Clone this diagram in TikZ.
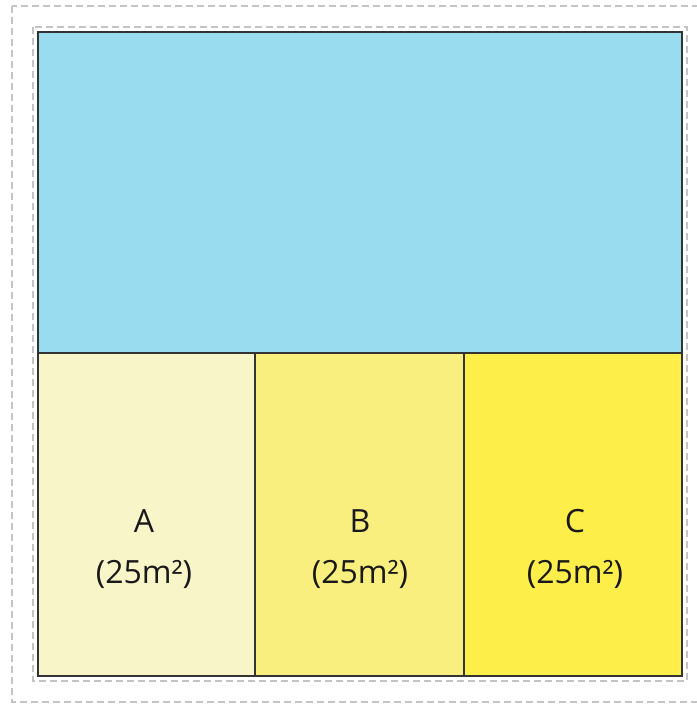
\documentclass[tikz,border=0pt]{standalone}
\usepackage{fontspec}
\setmainfont{Open Sans}
\definecolor{skyc}{HTML}{9ADCEF}
\definecolor{ac}{HTML}{F8F6C8}
\definecolor{bc}{HTML}{F9EF7E}
\definecolor{cc}{HTML}{FDEE4A}
\definecolor{edgec}{HTML}{333333}
\definecolor{dashc}{HTML}{C4C4C4}
\begin{document}
\begin{tikzpicture}[x=1pt,y=-1pt,
  frame/.style={draw=dashc,line width=1.1pt,dash pattern=on 7pt off 4pt},
  plot/.style={draw=edgec,line width=1.5pt},
  lbl/.style={font=\fontsize{32}{51}\selectfont,align=center,text=black!90}]
\useasboundingbox (0,0) rectangle (696,704);
\draw[frame] (12,6) rectangle (699,702);
\draw[frame] (33,27) rectangle (687,681);
\path[fill=skyc] (38,32) rectangle (682,353);
\path[fill=ac] (38,353) rectangle (255,676);
\path[fill=bc] (255,353) rectangle (464,676);
\path[fill=cc] (464,353) rectangle (682,676);
\draw[plot] (38,32) rectangle (682,676);
\draw[plot] (38,353) -- (682,353);
\draw[plot] (255,353) -- (255,676);
\draw[plot] (464,353) -- (464,676);
\node[lbl] (a) at (144,549) {A\\(25m²)};
\node[lbl] (b) at (360,549) {B\\(25m²)};
\node[lbl] (c) at (575,549) {C\\(25m²)};
\end{tikzpicture}
\end{document}
